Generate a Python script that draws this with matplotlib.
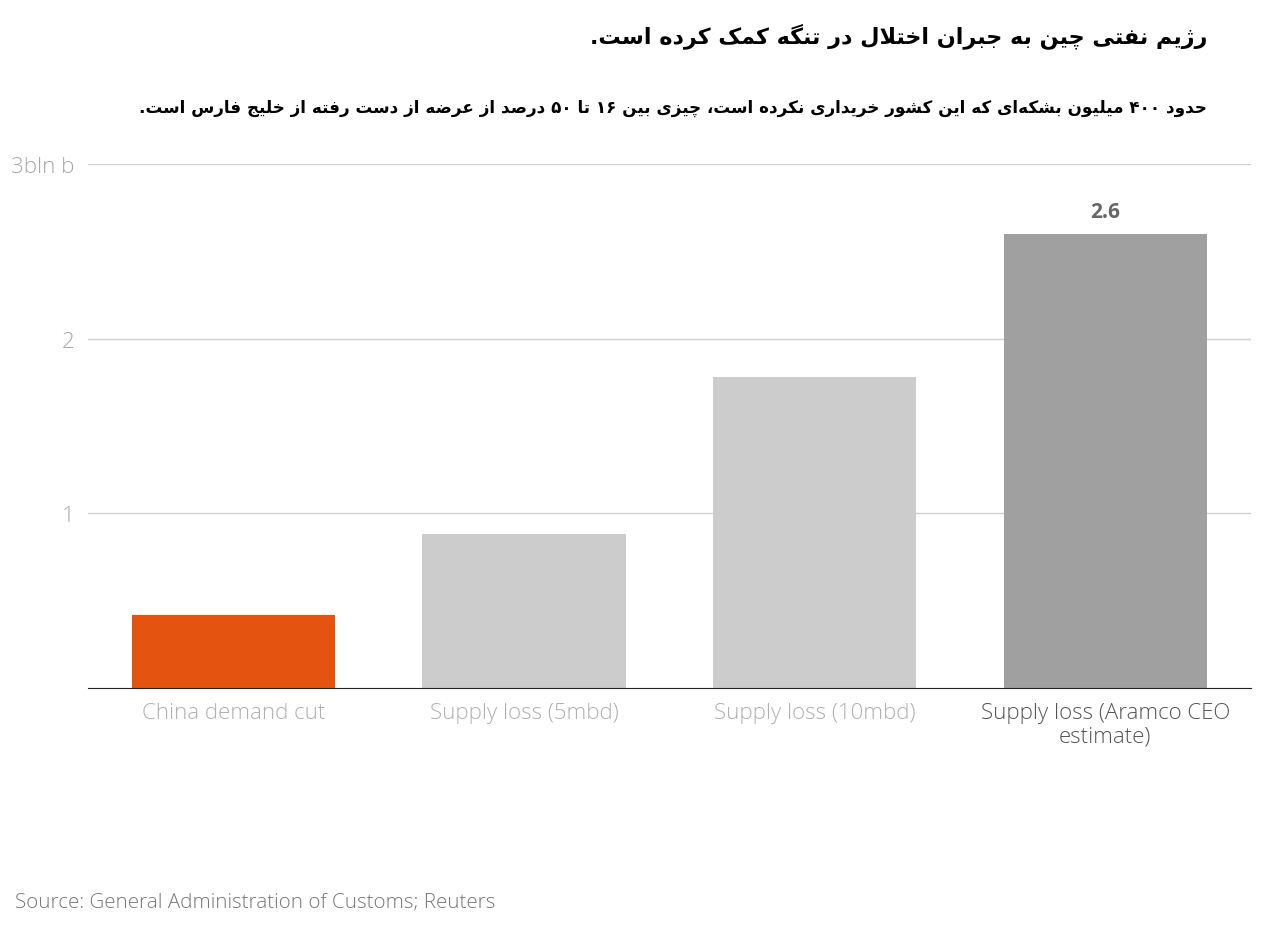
import matplotlib
matplotlib.use("Agg")
import matplotlib.pyplot as plt

title = "رژیم نفتی چین به جبران اختلال در تنگه کمک کرده است."
subtitle = "حدود ۴۰۰ میلیون بشکه\u200cای که این کشور خریداری نکرده است، چیزی بین ۱۶ تا ۵۰ درصد از عرضه از دست رفته از خلیج فارس است."
categories = ["China demand cut", "Supply loss (5mbd)", "Supply loss (10mbd)", "Supply loss (Aramco CEO\nestimate)"]
values = [0.42, 0.88, 1.78, 2.6]
colors = ["#e4530f", "#cccccc", "#cccccc", "#a0a0a0"]
label_colors = ["#b0b0b0", "#b0b0b0", "#b0b0b0", "#555555"]
yticks = [1, 2, 3]
ytick_labels = ["1", "2", "3bln b"]
source = "Source: General Administration of Customs; Reuters"

def rng(a, n=4):
    return tuple(chr(a + i) for i in range(n))
FORMS = {
    'ا': (chr(0xFE8D), chr(0xFE8E)), 'د': (chr(0xFEA9), chr(0xFEAA)), 'ذ': (chr(0xFEAB), chr(0xFEAC)),
    'ر': (chr(0xFEAD), chr(0xFEAE)), 'ز': (chr(0xFEAF), chr(0xFEB0)), 'ژ': (chr(0xFB8A), chr(0xFB8B)),
    'و': (chr(0xFEED), chr(0xFEEE)),
    'ب': rng(0xFE8F), 'ت': rng(0xFE95), 'ث': rng(0xFE99), 'ج': rng(0xFE9D), 'ح': rng(0xFEA1),
    'خ': rng(0xFEA5), 'س': rng(0xFEB1), 'ش': rng(0xFEB5), 'ص': rng(0xFEB9), 'ض': rng(0xFEBD),
    'ط': rng(0xFEC1), 'ظ': rng(0xFEC5), 'ع': rng(0xFEC9), 'غ': rng(0xFECD), 'ف': rng(0xFED1),
    'ق': rng(0xFED5), 'ل': rng(0xFEDD), 'م': rng(0xFEE1), 'ن': rng(0xFEE5), 'ه': rng(0xFEE9),
    'ی': rng(0xFBFC), 'ک': rng(0xFB8E), 'گ': rng(0xFB92), 'چ': rng(0xFB7A), 'پ': rng(0xFB56),
}

def dual(c):
    return c in FORMS and len(FORMS[c]) == 4

def shape(s):
    out = []
    chars = list(s)
    i = 0
    while i < len(chars):
        c = chars[i]
        if c == '\u200c':
            i += 1
            continue
        prev = chars[i - 1] if i > 0 else ''
        joinp = dual(prev)
        if c == 'ل' and i + 1 < len(chars) and chars[i + 1] == 'ا':
            out.append(chr(0xFEFC) if joinp else chr(0xFEFB))
            i += 2
            continue
        if c in FORMS:
            f = FORMS[c]
            nxt = chars[i + 1] if i + 1 < len(chars) else ''
            joinn = dual(c) and nxt in FORMS
            if joinp and joinn:
                out.append(f[3])
            elif joinp:
                out.append(f[1])
            elif joinn:
                out.append(f[2])
            else:
                out.append(f[0])
        else:
            out.append(c)
        i += 1
    r = ''.join(out)[::-1]
    res, buf = [], []
    for ch in r:
        if ch in '۰۱۲۳۴۵۶۷۸۹':
            buf.append(ch)
        else:
            res.extend(buf[::-1]); buf = []
            res.append(ch)
    res.extend(buf[::-1])
    return ''.join(res)

plt.rcParams['font.family'] = ['Open Sans', 'DejaVu Sans']
fig = plt.figure(figsize=(12.8, 9.45), dpi=100)
ax = fig.add_axes([0.069, 0.271, 0.908, 0.554])
x = range(len(values))
ax.bar(x, values, width=0.7, color=colors, zorder=2)
ax.set_xlim(-0.5, 3.5)
ax.set_ylim(0, 3)
for y in yticks:
    ax.axhline(y, color="#d0d0d0", lw=1, zorder=1)
ax.set_yticks(yticks)
ax.set_yticklabels(ytick_labels, fontsize=16, color="#a8a8a8", fontweight="light")
ax.tick_params(axis='y', length=0, pad=10)
ax.set_xticks(list(x))
ax.set_xticklabels(categories, fontsize=16, fontweight="light")
for t, c in zip(ax.get_xticklabels(), label_colors):
    t.set_color(c)
ax.tick_params(axis='x', length=0, pad=10)
for s in ["top", "right", "left"]:
    ax.spines[s].set_visible(False)
ax.spines["bottom"].set_color("#222222")
ax.text(3, values[3] + 0.07, "2.6", ha="center", va="bottom", fontsize=15, fontweight="bold", color="#666666")

fig.text(0.943, 0.962, shape(title), ha="right", va="center", fontsize=16, fontweight="bold", family="DejaVu Sans")
fig.text(0.943, 0.886, shape(subtitle), ha="right", va="center", fontsize=12.1, fontweight="bold", family="DejaVu Sans")
fig.text(0.012, 0.045, source, ha="left", va="center", fontsize=14.8, color="#777777", fontweight="light")
fig.savefig("out.png", dpi=100)
